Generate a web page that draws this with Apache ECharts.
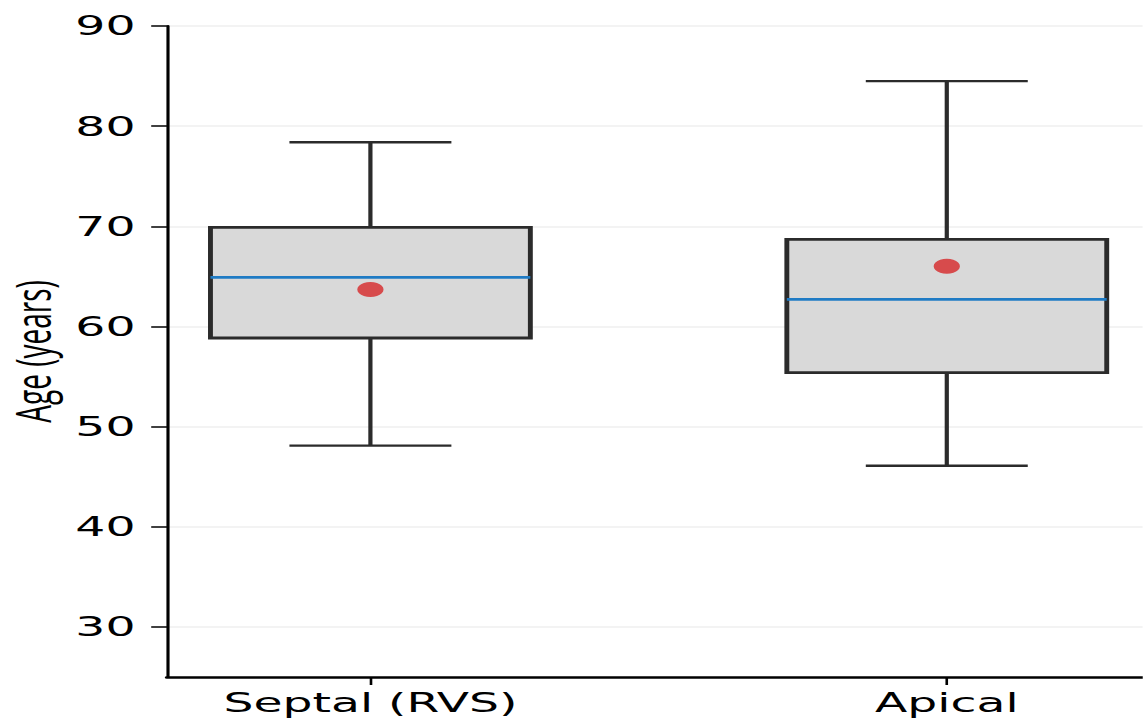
<!DOCTYPE html>
<html>
<head>
<meta charset="utf-8">
<title>Age by pacing site</title>
<script src="https://cdn.jsdelivr.net/npm/echarts@6/dist/echarts.min.js"></script>
<style>
  html, body { margin: 0; padding: 0; background: #fff; overflow: hidden; }
  /* The figure is laid out narrow and widened horizontally, as in the published plot */
  #chart { width: 653.14px; height: 720px; transform: scaleX(1.75); transform-origin: 0 0; }
</style>
</head>
<body>
<div id="chart"></div>
<script>
// Pacing-site groups and their age distributions (years)
const categories   = ['Septal (RVS)', 'Apical'];
const whiskerLow   = [48.1, 46.1];
const quartile1    = [58.85, 55.4];
const medians      = [64.9, 62.7];
const quartile3    = [69.9, 68.7];
const whiskerHigh  = [78.4, 84.5];
const means        = [63.7, 66.0];
const yTickValues  = [30, 40, 50, 60, 70, 80, 90];

const BOX_HALF = 0.2775;   // half box width in category units
const CAP_HALF = 0.1405;   // half whisker-cap width

const boxData = categories.map((c, i) =>
  [i, whiskerLow[i], quartile1[i], medians[i], quartile3[i], whiskerHigh[i]]);
const meanData = categories.map((c, i) => [i, means[i]]);

const chart = echarts.init(document.getElementById('chart'), null, { renderer: 'svg' });

const edge = '#2b2b2b';

function renderBox(params, api) {
  const x = api.value(0);
  const p = (dx, v) => api.coord([x + dx, v]);
  const lo = api.value(1), a = api.value(2), m = api.value(3), b = api.value(4), hi = api.value(5);
  const whiskerStyle = { stroke: edge, lineWidth: 2.4, fill: null };
  const line = (p1, p2, style) => ({
    type: 'line',
    shape: { x1: p1[0], y1: p1[1], x2: p2[0], y2: p2[1] },
    style: style
  });
  const bl = p(-BOX_HALF, b);
  const br = p(BOX_HALF, a);
  return {
    type: 'group',
    children: [
      line(p(0, lo), p(0, a), whiskerStyle),
      line(p(0, b), p(0, hi), whiskerStyle),
      line(p(-CAP_HALF, lo), p(CAP_HALF, lo), whiskerStyle),
      line(p(-CAP_HALF, hi), p(CAP_HALF, hi), whiskerStyle),
      {
        type: 'rect',
        shape: { x: bl[0], y: bl[1], width: br[0] - bl[0], height: br[1] - bl[1] },
        style: { fill: '#d9d9d9', stroke: edge, lineWidth: 2.8 }
      },
      line(p(-BOX_HALF, m), p(BOX_HALF, m), { stroke: '#1f7bc4', lineWidth: 2.8 })
    ]
  };
}

chart.setOption({
  animation: false,
  backgroundColor: '#ffffff',
  grid: { left: 95.4, right: 0, top: 26, bottom: 43, containLabel: false, outerBoundsMode: 'none' },
  xAxis: {
    type: 'value',
    min: -0.353,
    max: 1.34,
    axisLine: { show: true, onZero: false, lineStyle: { color: '#000', width: 2.5 } },
    axisTick: { show: true, length: 8, customValues: [0, 1], lineStyle: { color: '#000', width: 1.5 } },
    axisLabel: {
      customValues: [0, 1],
      formatter: v => categories[Math.round(v)] || '',
      fontFamily: 'DejaVu Sans',
      fontSize: 27,
      color: '#000',
      margin: 12
    },
    splitLine: { show: false }
  },
  yAxis: {
    type: 'value',
    min: 25,
    max: 90,
    name: 'Age (years)',
    nameLocation: 'middle',
    nameGap: 62,
    nameTextStyle: { fontFamily: 'Open Sans', fontSize: 28, lineHeight: 28, color: '#000' },
    axisLine: { show: true, onZero: false, lineStyle: { color: '#000', width: 1.8 } },
    axisTick: { show: true, length: 9, customValues: yTickValues, lineStyle: { color: '#000', width: 1.5 } },
    axisLabel: {
      customValues: yTickValues,
      fontFamily: 'DejaVu Sans',
      fontSize: 27,
      color: '#000',
      margin: 18
    },
    splitLine: { show: true, lineStyle: { color: '#efefef', width: 1.5 } }
  },
  series: [
    {
      type: 'custom',
      name: 'box',
      renderItem: renderBox,
      data: boxData,
      encode: { x: 0, y: [1, 2, 3, 4, 5] },
      z: 2
    },
    {
      type: 'scatter',
      name: 'mean',
      data: meanData,
      symbol: 'circle',
      symbolSize: 15,
      itemStyle: { color: '#d62728' },
      z: 3
    }
  ]
});
</script>
</body>
</html>
